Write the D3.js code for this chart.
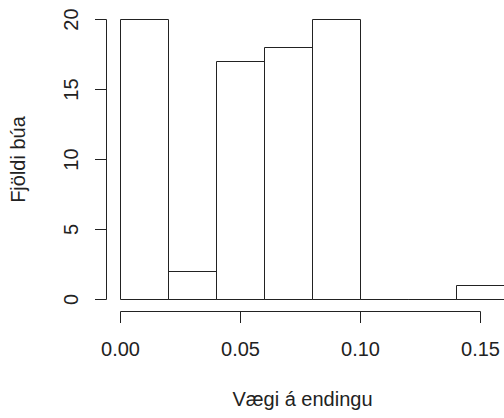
<!DOCTYPE html>
<html><head><meta charset="utf-8">
<script src="https://cdn.jsdelivr.net/npm/d3@7"></script>
<style>body{margin:0;background:#fff}svg{display:block}text{font-family:"Liberation Sans",Arial,sans-serif;fill:#222}</style>
</head><body>
<script>
const binStarts = [0.00, 0.02, 0.04, 0.06, 0.08, 0.10, 0.12, 0.14];
const binWidth = 0.02;
const counts = [20, 2, 17, 18, 20, 0, 0, 1];
const xTicks = [0.00, 0.05, 0.10, 0.15];
const yTicks = [0, 5, 10, 15, 20];
const xLabel = "Vægi á endingu";
const yLabel = "Fjöldi búa";

const W = 504, H = 418;
const svg = d3.select("body").append("svg").attr("width", W).attr("height", H);
const x = d3.scaleLinear().domain([0, 0.15]).range([120.5, 480.5]);
const y = d3.scaleLinear().domain([0, 20]).range([299.5, 19.5]);

svg.append("g").selectAll("path").data(binStarts).join("path")
  .attr("d", (d, i) => {
    const x0 = x(d), x1 = x(d + binWidth), y0 = y(0), y1 = y(counts[i]);
    return `M${x0},${y0}L${x0},${y1}L${x1},${y1}L${x1},${y0}Z`;
  })
  .attr("fill", "none").attr("stroke", "#222").attr("stroke-width", 1);

// x axis
const gx = svg.append("g");
gx.append("line").attr("x1", x(0)).attr("x2", x(0.15)).attr("y1", 311.5).attr("y2", 311.5).attr("stroke", "#222");
gx.selectAll("line.t").data(xTicks).join("line").attr("class", "t")
  .attr("x1", d => x(d)).attr("x2", d => x(d)).attr("y1", 311.5).attr("y2", 323).attr("stroke", "#222");
gx.selectAll("text").data(xTicks).join("text")
  .attr("x", d => x(d)).attr("y", 356).attr("text-anchor", "middle").attr("font-size", 20)
  .text(d => d3.format(".2f")(d));
svg.append("text").attr("x", x(0.075) + 2).attr("y", 406).attr("text-anchor", "middle").attr("font-size", 20).text(xLabel);

// y axis
const gy = svg.append("g");
gy.append("line").attr("x1", 106.5).attr("x2", 106.5).attr("y1", y(0)).attr("y2", y(20)).attr("stroke", "#222");
gy.selectAll("line.t").data(yTicks).join("line").attr("class", "t")
  .attr("x1", 95).attr("x2", 106.5).attr("y1", d => y(d)).attr("y2", d => y(d)).attr("stroke", "#222");
gy.selectAll("text").data(yTicks).join("text")
  .attr("transform", d => `translate(77.5,${y(d)}) rotate(-90)`)
  .attr("text-anchor", "middle").attr("font-size", 20).text(d => d);
svg.append("text").attr("transform", `translate(24.5,159.5) rotate(-90)`)
  .attr("text-anchor", "middle").attr("font-size", 20).text(yLabel);
</script>
</body></html>
